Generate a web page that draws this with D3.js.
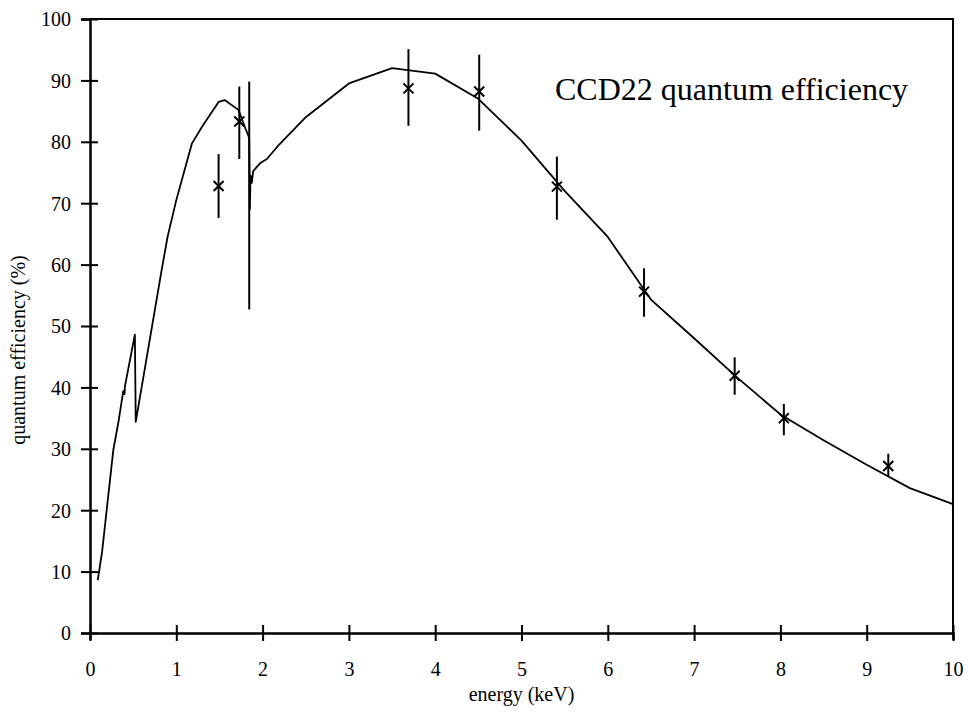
<!DOCTYPE html>
<html>
<head>
<meta charset="utf-8">
<script src="https://cdn.jsdelivr.net/npm/d3@7"></script>
<style>
  body { margin: 0; background: #fff; }
  svg { display: block; }
</style>
</head>
<body>
<div id="chart"></div>
<script>
// model curve (energy in keV, QE in %)
const curveEnergy = [0.09, 0.14, 0.27, 0.33, 0.385, 0.40, 0.405, 0.52, 0.53, 0.83, 0.9, 1.0,
  1.18, 1.30, 1.49, 1.56, 1.72, 1.80, 1.83, 1.845, 1.852, 1.86, 1.875, 1.89, 1.97, 2.05,
  2.17, 2.5, 3.0, 3.5, 4.0, 4.5, 5.0, 5.5, 6.0, 6.5, 7.0, 7.5, 8.0, 8.5, 9.0, 9.5, 10.0];
const curveQE = [8.6, 13.2, 29.8, 34.4, 39.4, 38.9, 40.2, 48.6, 34.4, 59.1, 64.6, 70.5,
  79.7, 82.5, 86.5, 86.8, 85.2, 82.2, 81.2, 80.6, 69.0, 74.5, 73.3, 75.2, 76.5, 77.2,
  79.2, 84.0, 89.5, 92.0, 91.1, 87.0, 80.2, 72.0, 64.5, 54.3, 48.0, 41.6, 35.6, 31.4, 27.4, 23.6, 21.0];

// measured points with error bars (null value: marker hidden by the Si edge)
const pointEnergy = [1.49, 1.73, 1.845, 3.69, 4.51, 5.41, 6.42, 7.47, 8.04, 9.25];
const pointQE = [72.8, 83.3, null, 88.7, 88.2, 72.7, 55.6, 41.9, 35.0, 27.2];
const pointLow = [67.6, 77.2, 52.7, 82.6, 81.8, 67.3, 51.5, 38.8, 32.2, 25.5];
const pointHigh = [78.0, 89.0, 89.8, 95.1, 94.2, 77.6, 59.4, 44.9, 37.3, 29.2];

const xTicks = [0, 1, 2, 3, 4, 5, 6, 7, 8, 9, 10];
const yTicks = [0, 10, 20, 30, 40, 50, 60, 70, 80, 90, 100];

const width = 968;
const height = 722;
const margin = { top: 19, right: 15, bottom: 89, left: 90 };
const font = "'Liberation Serif', 'Times New Roman', serif";

const svg = d3.select("#chart").append("svg")
  .attr("width", width)
  .attr("height", height);

const x = d3.scaleLinear().domain([0, 10]).range([margin.left, width - margin.right]);
const y = d3.scaleLinear().domain([0, 100]).range([height - margin.bottom, margin.top]);

// frame (top and right)
svg.append("path")
  .attr("d", `M${x(0)},${y(100)}H${x(10)}V${y(0)}`)
  .attr("fill", "none")
  .attr("stroke", "#000")
  .attr("stroke-width", 2);

// axes with ticks crossing the line
const xAxis = svg.append("g")
  .attr("transform", `translate(0,${y(0)})`)
  .call(d3.axisBottom(x).tickValues(xTicks).tickSizeOuter(0).tickSize(7).tickPadding(22));
xAxis.selectAll(".tick line").attr("y1", -8).attr("y2", 8).attr("stroke-width", 2);

const yAxis = svg.append("g")
  .attr("transform", `translate(${x(0)},0)`)
  .call(d3.axisLeft(y).tickValues(yTicks).tickSizeOuter(0).tickSize(9).tickPadding(10));
yAxis.selectAll(".tick line").attr("x1", -9).attr("x2", 8).attr("stroke-width", 2);

[xAxis, yAxis].forEach(a => {
  a.select(".domain").attr("stroke-width", 2.5);
  a.selectAll(".tick text")
    .attr("font-family", font)
    .attr("font-size", "20px")
    .attr("fill", "#000");
});
yAxis.selectAll(".tick text").attr("dy", "0.34em");

// model curve
const curve = curveEnergy.map((e, i) => [e, curveQE[i]]);
svg.append("path")
  .datum(curve)
  .attr("fill", "none")
  .attr("stroke", "#000")
  .attr("stroke-width", 1.8)
  .attr("stroke-linejoin", "round")
  .attr("d", d3.line().x(d => x(d[0])).y(d => y(d[1])));

// error bars and x markers
const pts = pointEnergy.map((e, i) => ({ e, qe: pointQE[i], lo: pointLow[i], hi: pointHigh[i] }));
const m = 5;
const g = svg.append("g").attr("stroke", "#000").attr("stroke-width", 2);
g.selectAll(".err").data(pts).join("line")
  .attr("class", "err")
  .attr("x1", d => x(d.e)).attr("x2", d => x(d.e))
  .attr("y1", d => y(d.hi)).attr("y2", d => y(d.lo));
g.selectAll(".mark").data(pts.filter(d => d.qe != null)).join("path")
  .attr("class", "mark")
  .attr("d", d => {
    const cx = x(d.e), cy = y(d.qe);
    return `M${cx - m},${cy - m}L${cx + m},${cy + m}M${cx - m},${cy + m}L${cx + m},${cy - m}`;
  });

// labels
svg.append("text")
  .attr("x", 555)
  .attr("y", 100)
  .attr("font-family", font)
  .attr("font-size", "32px")
  .text("CCD22 quantum efficiency");

svg.append("text")
  .attr("x", (x(0) + x(10)) / 2)
  .attr("y", 701)
  .attr("text-anchor", "middle")
  .attr("font-family", font)
  .attr("font-size", "20px")
  .text("energy (keV)");

svg.append("text")
  .attr("transform", `translate(25,${(y(0) + y(100)) / 2 + 24}) rotate(-90)`)
  .attr("text-anchor", "middle")
  .attr("font-family", font)
  .attr("font-size", "20px")
  .text("quantum efficiency (%)");
</script>
</body>
</html>
